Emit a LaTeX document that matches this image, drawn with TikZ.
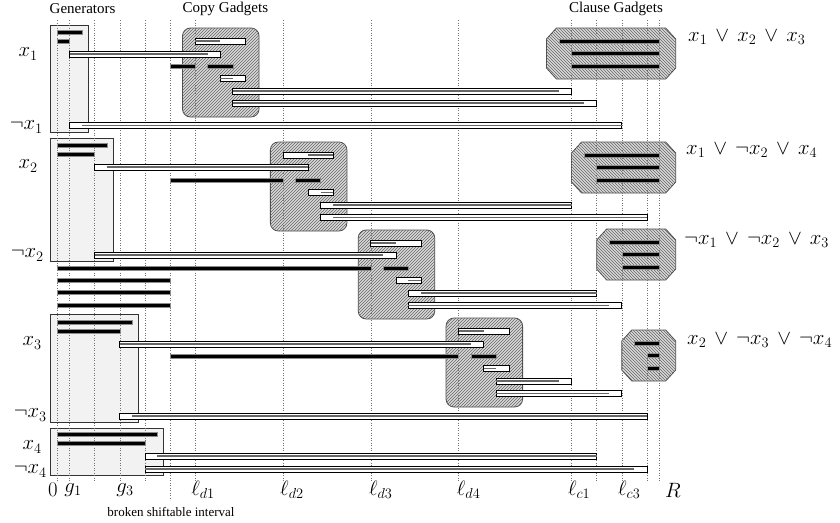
\documentclass[tikz,border=0pt]{standalone}
\usepackage{fontspec}
\newfontfamily\tms{Liberation Serif}
\usetikzlibrary{patterns}

\tikzset{
    genbox/.style={draw=black!80, fill=gray!10, line width=0.5pt},
    gadget/.style={draw=black!70, line width=0.8pt, rounded corners=8pt, fill=gray!30,
        postaction={pattern=north east lines, pattern color=black!60}},
    clausebox/.style={draw=black!70, line width=0.8pt, fill=gray!30,
        postaction={pattern=north west lines, pattern color=black!60}},
    gridline/.style={dotted, black!55, line width=0.5pt},
    ivbar/.style={draw=black, fill=white, line width=0.6pt},
    ivline/.style={draw=black!60, line width=1.3pt},
    blkbar/.style={fill=black, draw=black!45, line width=0.4pt},
    varlab/.style={anchor=east, inner sep=0pt, font=\fontsize{20.74}{24}\selectfont},
    clauselab/.style={anchor=west, inner sep=0pt, font=\fontsize{20.74}{24}\selectfont},
    axlab/.style={inner sep=0pt, font=\fontsize{20.74}{24}\selectfont},
    title/.style={inner sep=0pt, font=\tms\fontsize{15}{17}\selectfont}
}

\newcommand{\ivl}[5]{%
    \draw[ivbar] (#1,#3-3) rectangle (#2,#3+3);
    \draw[ivline] (#4,#3) -- (#5,#3);
}
\newcommand{\blk}[3]{\draw[blkbar] (#1,#3-2) rectangle (#2,#3+2);}
\newcommand{\orop}{\mathbin{\,\vee\,}}

\begin{document}
\begin{tikzpicture}[x=25.1pt, y=-1pt]
    \useasboundingbox (-2.271,0) rectangle (31.195,522);

    \draw[genbox] (-0.25,25) rectangle (1.25,132);
    \draw[genbox] (-0.25,138) rectangle (2.25,261);
    \draw[genbox] (-0.25,314) rectangle (3.25,422);
    \draw[genbox] (-0.25,428) rectangle (4.25,475);

    \foreach \b/\t in {5.5/28, 9/142, 12.5/230, 16/318}
        \draw[gadget] (\b-0.5,\t) rectangle (\b+2.55,\t+89);
    \foreach \s/\t in {19.5/28, 20.5/142, 21.5/229, 22.5/330}
        \draw[clausebox] (\s,\t+11) -- (\s+0.4,\t) -- (24.25,\t) -- (24.65,\t+11)
            -- (24.65,\t+40) -- (24.25,\t+51) -- (\s+0.4,\t+51) -- (\s,\t+40) -- cycle;

    \foreach \g in {0,0.5,1.5,2.5,3.5,5.5,9,12.5,16,20.5,21.5,22.5,23.5,24}
        \draw[gridline] (\g,20) -- (\g,482);
    \draw[gridline] (4.5,20) -- (4.5,500);

    \blk{0}{1}{32} \blk{0}{0.5}{41}
    \blk{0}{2}{145} \blk{0}{1.5}{154}
    \blk{0}{3}{322} \blk{0}{2.5}{331}
    \blk{0}{4}{434} \blk{0}{3.5}{443}
    \foreach \y in {280,292,305} {
        \blk{0}{4.5}{\y}
    }

    \blk{4.5}{5.5}{66} \blk{6}{7}{66}
    \blk{4.5}{9}{180} \blk{9.5}{10.5}{180}
    \blk{0}{12.5}{268} \blk{13}{14}{268}
    \blk{4.5}{16}{356} \blk{16.5}{17.5}{356}

    \foreach \s/\t in {19.5/28, 20.5/142, 21.5/229, 22.5/330} {
        \blk{\s+0.5}{24}{\t+13}
        \blk{\s+1}{24}{\t+25.5}
        \blk{\s+1}{24}{\t+38}
    }

    \foreach \b/\t/\p/\q in {5.5/28/0/1, 9/142/1/1.5, 12.5/230/0/1.5, 16/318/0/1} {
        \ivl{\b}{\b+2}{\t+13}{\b+\p}{\b+\p+1}
        \ivl{\b+1}{\b+2}{\t+50.5}{\b+\q}{\b+\q+0.5}
    }

    \ivl{0.5}{6.5}{54}{0.5}{6}
    \ivl{0.5}{22.5}{125.5}{1}{22.5}
    \ivl{1.5}{10}{167}{2}{10}
    \ivl{1.5}{13.5}{255}{1.5}{13}
    \ivl{2.5}{17}{344}{2.5}{16.5}
    \ivl{2.5}{23.5}{416}{3}{23.5}
    \ivl{3.5}{21.5}{456}{4}{21.5}
    \ivl{3.5}{23.5}{469}{3.5}{23}

    \ivl{7}{20.5}{91}{7}{20}
    \ivl{7}{21.5}{103}{7}{21}
    \ivl{10.5}{20.5}{205}{11}{20.5}
    \ivl{10.5}{23.5}{217.5}{11}{23.5}
    \ivl{14}{21.5}{293}{14.5}{21.5}
    \ivl{14}{22.5}{305.5}{14}{22}
    \ivl{17.5}{20.5}{381}{17.5}{20}
    \ivl{17.5}{22.5}{393.5}{17.5}{22}

    \node[title, anchor=west] (tgen) at (-0.3,9) {Generators};
    \node[title, anchor=west] (tcopy) at (5,9) {Copy Gadgets};
    \node[title] (tclause) at (22.27,9) {Clause Gadgets};
    \node[title, font=\tms\fontsize{13}{15}\selectfont] (tbroken) at (4.54,512) {broken shiftable interval};

    \node[varlab] (lx1) at (-0.76,54) {$x_1$};
    \node[varlab] (lnx1) at (-0.56,127) {$\neg x_1$};
    \node[varlab] (lx2) at (-0.76,166) {$x_2$};
    \node[varlab] (lnx2) at (-0.52,255) {$\neg x_2$};
    \node[varlab] (lx3) at (-0.6,343) {$x_3$};
    \node[varlab] (lnx3) at (-0.4,415) {$\neg x_3$};
    \node[varlab] (lx4) at (-0.6,447) {$x_4$};
    \node[varlab] (lnx4) at (-0.4,471) {$\neg x_4$};

    \node[clauselab] (c1) at (25.14,37) {$x_1 \orop x_2 \orop x_3$};
    \node[clauselab] (c2) at (25.06,150) {$x_1 \orop \neg x_2 \orop x_4$};
    \node[clauselab] (c3) at (24.98,240) {$\neg x_1 \orop \neg x_2 \orop x_3$};
    \node[clauselab] (c4) at (25.1,340) {$x_2 \orop \neg x_3 \orop \neg x_4$};

    \node[axlab] (a0) at (-0.16,490) {$0$};
    \node[axlab] (ag1) at (0.64,490) {$g_1$};
    \node[axlab] (ag3) at (2.71,490) {$g_3$};
    \node[axlab] (ad1) at (5.82,490) {$\ell_{d1}$};
    \node[axlab] (ad2) at (9.36,490) {$\ell_{d2}$};
    \node[axlab] (ad3) at (12.9,490) {$\ell_{d3}$};
    \node[axlab] (ad4) at (16.4,490) {$\ell_{d4}$};
    \node[axlab] (ac1) at (20.8,490) {$\ell_{c1}$};
    \node[axlab] (ac3) at (22.8,490) {$\ell_{c3}$};
    \node[axlab] (aR) at (24.54,490) {$R$};
\end{tikzpicture}
\end{document}
